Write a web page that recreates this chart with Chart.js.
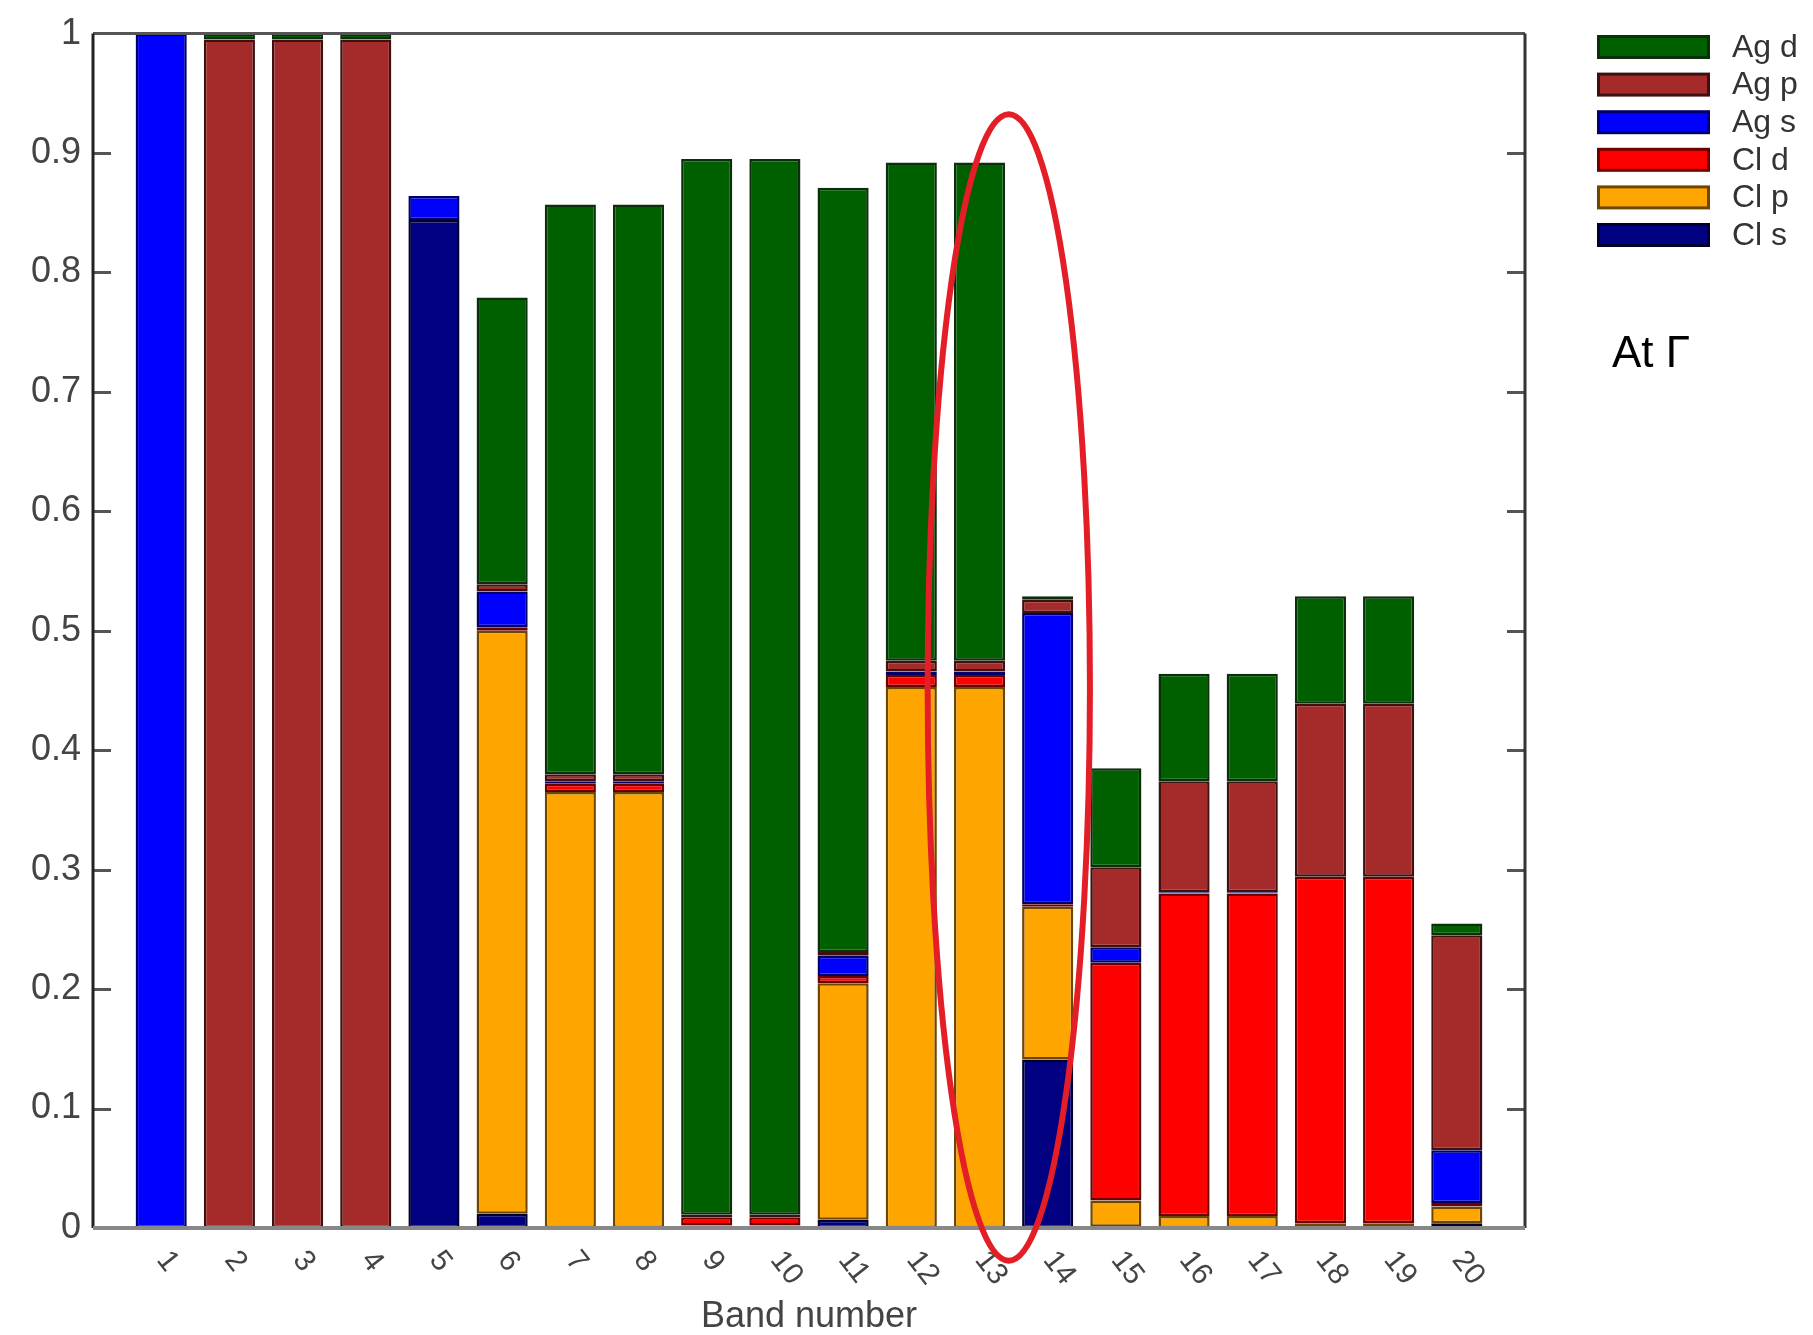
<!DOCTYPE html>
<html>
<head>
<meta charset="utf-8">
<script src="https://cdn.jsdelivr.net/npm/chart.js@4.4.1/dist/chart.umd.min.js"></script>
<style>
  html, body { margin: 0; padding: 0; background: #fff; }
  #wrap { width: 1813px; height: 1335px; position: relative; }
</style>
</head>
<body>
<div id="wrap"><canvas id="bandChart"></canvas></div>
<script>
// Orbital character of each band at Gamma (stacked, bottom -> top: Cl s, Cl p, Cl d, Ag s, Ag p, Ag d)
const bands = [1, 2, 3, 4, 5, 6, 7, 8, 9, 10, 11, 12, 13, 14, 15, 16, 17, 18, 19, 20];

const clS = [0, 0, 0, 0, 0.844, 0.012, 0, 0, 0, 0, 0.007, 0, 0, 0.141, 0.001, 0, 0, 0, 0, 0.004];
const clP = [0, 0, 0, 0, 0, 0.488, 0.365, 0.365, 0.002, 0.002, 0.198, 0.453, 0.453, 0.128, 0.022, 0.010, 0.010, 0.004, 0.004, 0.014];
const clD = [0, 0, 0, 0, 0, 0.003, 0.007, 0.007, 0.007, 0.007, 0.006, 0.010, 0.010, 0.002, 0.199, 0.270, 0.270, 0.290, 0.290, 0.003];
const agS = [1.0, 0, 0, 0, 0.020, 0.030, 0.002, 0.002, 0, 0, 0.017, 0.003, 0.003, 0.244, 0.013, 0.001, 0.001, 0, 0, 0.044];
const agP = [0, 0.995, 0.995, 0.995, 0, 0.006, 0.006, 0.006, 0.002, 0.002, 0.003, 0.009, 0.009, 0.011, 0.067, 0.093, 0.093, 0.145, 0.145, 0.180];
const agD = [0, 0.005, 0.005, 0.005, 0, 0.240, 0.477, 0.477, 0.884, 0.884, 0.640, 0.417, 0.417, 0.003, 0.083, 0.090, 0.090, 0.090, 0.090, 0.010];

const yTicks = [0, 0.1, 0.2, 0.3, 0.4, 0.5, 0.6, 0.7, 0.8, 0.9, 1];

// red ellipse marking bands 13/14 (data units)
const ellipseNote = { x: 13.43, y: 0.4525, rx: 1.19, ry: 0.48 };

function series(label, values, color, edge) {
    return {
        label: label,
        data: bands.map((b, i) => ({ x: b, y: values[i] || null })),
        backgroundColor: color,
        borderColor: edge,
        borderWidth: 2.5,
        borderSkipped: false,
        categoryPercentage: 1,
        barPercentage: 0.75
    };
}

const datasets = [
    series('Cl s', clS, '#000080', '#00002e'),
    series('Cl p', clP, '#ffa500', '#6e4600'),
    series('Cl d', clD, '#ff0000', '#6a0000'),
    series('Ag s', agS, '#0000ff', '#000068'),
    series('Ag p', agP, '#a52a2a', '#3e1010'),
    series('Ag d', agD, '#006000', '#0b2e0b')
];

// frame, inward ticks, rotated band labels, legend, note and ellipse
const extras = {
    id: 'extras',
    afterDatasetsDraw(chart) {
        const { ctx, chartArea: a, scales: { x, y } } = chart;
        ctx.save();

        // inward ticks on both sides
        ctx.strokeStyle = '#555';
        ctx.lineWidth = 3;
        yTicks.slice(1, -1).forEach(v => {
            const py = Math.round(y.getPixelForValue(v)) + 0.5;
            ctx.beginPath();
            ctx.moveTo(a.left, py); ctx.lineTo(a.left + 18, py);
            ctx.moveTo(a.right, py); ctx.lineTo(a.right - 18, py);
            ctx.stroke();
        });

        // frame
        ctx.lineWidth = 3;
        ctx.strokeStyle = '#555';
        ctx.beginPath(); ctx.moveTo(a.left, a.top); ctx.lineTo(a.right, a.top); ctx.stroke();
        ctx.strokeStyle = '#222';
        ctx.beginPath(); ctx.moveTo(a.left, a.top); ctx.lineTo(a.left, a.bottom); ctx.stroke();
        ctx.strokeStyle = '#333';
        ctx.beginPath(); ctx.moveTo(a.right, a.top); ctx.lineTo(a.right, a.bottom); ctx.stroke();
        ctx.strokeStyle = '#888';
        ctx.lineWidth = 4;
        ctx.beginPath(); ctx.moveTo(a.left, a.bottom); ctx.lineTo(a.right, a.bottom); ctx.stroke();

        // rotated x labels
        ctx.fillStyle = '#444';
        ctx.font = '30px "Liberation Sans", Arial, sans-serif';
        ctx.textAlign = 'left';
        ctx.textBaseline = 'middle';
        bands.forEach(b => {
            ctx.save();
            ctx.translate(x.getPixelForValue(b) + 1, a.bottom + 27);
            ctx.rotate(52 * Math.PI / 180);
            ctx.fillText(String(b), 0, 0);
            ctx.restore();
        });

        // legend (top entry = top of stack)
        const items = chart.data.datasets.slice().reverse();
        ctx.font = '32px "Liberation Sans", Arial, sans-serif';
        items.forEach((ds, i) => {
            const cy = 47 + i * 37.6;
            ctx.fillStyle = ds.borderColor;
            ctx.fillRect(1597, cy - 12, 113, 24);
            ctx.fillStyle = ds.backgroundColor;
            ctx.fillRect(1600, cy - 9, 107, 18);
            ctx.fillStyle = '#333';
            ctx.fillText(ds.label, 1732, cy + 1);
        });

        // note
        ctx.fillStyle = '#000';
        ctx.font = '44px "Liberation Sans", Arial, sans-serif';
        ctx.textBaseline = 'alphabetic';
        ctx.fillText('At Γ', 1612, 367);

        // ellipse annotation
        const cx = x.getPixelForValue(ellipseNote.x);
        const cyE = y.getPixelForValue(ellipseNote.y);
        const rx = x.getPixelForValue(ellipseNote.x + ellipseNote.rx) - cx;
        const ry = cyE - y.getPixelForValue(ellipseNote.y + ellipseNote.ry);
        ctx.strokeStyle = '#e31e26';
        ctx.lineWidth = 6;
        ctx.beginPath();
        ctx.ellipse(cx, cyE, rx, ry, 0, 0, Math.PI * 2);
        ctx.stroke();

        ctx.restore();
    }
};

new Chart(document.getElementById('bandChart'), {
    type: 'bar',
    data: { datasets: datasets },
    options: {
        responsive: true,
        maintainAspectRatio: false,
        animation: false,
        events: [],
        layout: { padding: { top: 28, right: 288, bottom: 0, left: 0 } },
        plugins: {
            legend: { display: false },
            tooltip: { enabled: false }
        },
        scales: {
            x: {
                type: 'linear',
                stacked: true,
                offset: false,
                min: 0,
                max: 21,
                grid: { display: false, drawTicks: false },
                border: { display: false },
                ticks: { display: false, stepSize: 1 },
                title: {
                    display: true,
                    text: 'Band number',
                    color: '#444',
                    font: { family: '"Liberation Sans", Arial, sans-serif', size: 36, lineHeight: 1 },
                    padding: { top: 0, bottom: 0 }
                },
                afterFit: s => { s.height = 107; }
            },
            y: {
                stacked: true,
                min: 0,
                max: 1,
                grid: { display: false, drawTicks: false },
                border: { display: false },
                ticks: {
                    stepSize: 0.1,
                    padding: 12,
                    color: '#444',
                    font: { family: '"Liberation Sans", Arial, sans-serif', size: 36 },
                    callback: v => String(Number(v.toFixed(1)))
                },
                afterFit: s => { s.width = 93; }
            }
        }
    },
    plugins: [extras]
});
</script>
</body>
</html>
